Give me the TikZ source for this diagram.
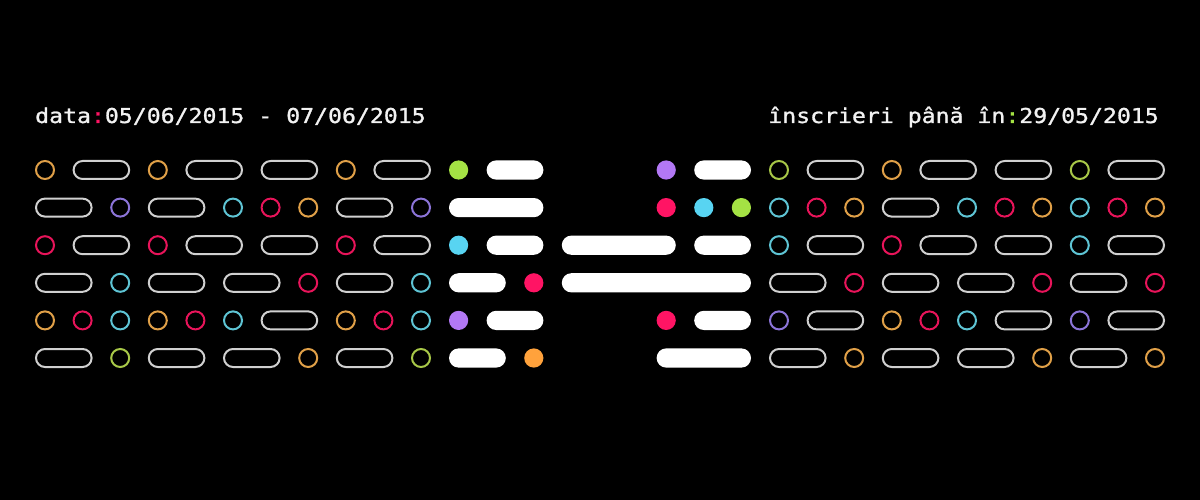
\documentclass[tikz,border=0pt]{standalone}
\usepackage{fontspec}
\newfontfamily\dgmono{DejaVu Sans Mono}[FakeStretch=1.13,FakeBold=1.2]
\definecolor{oO}{HTML}{E0A048}
\definecolor{oR}{HTML}{E8145A}
\definecolor{oC}{HTML}{5EC4D4}
\definecolor{oP}{HTML}{8C74D8}
\definecolor{oG}{HTML}{A8C848}
\definecolor{fG}{HTML}{A4E244}
\definecolor{fC}{HTML}{58D4F2}
\definecolor{fR}{HTML}{FF1464}
\definecolor{fP}{HTML}{B278F4}
\definecolor{fO}{HTML}{FFA23C}
\definecolor{pillgray}{HTML}{D0D0D0}
\definecolor{txt}{HTML}{F2F2F2}
\tikzset{
  ring/.style={line width=2pt},
  pillo/.style={draw=pillgray, line width=2pt, rounded corners=9pt},
  pillf/.style={fill=white, rounded corners=9.6pt},
  label/.style={text=txt, inner sep=0pt, font=\dgmono\fontsize{20.5}{24}\selectfont}
}
% left / right grid helpers: column, row, colour
\newcommand\dgLo[3]{\draw[ring,draw=#3] ({45+37.6*#1},{170+37.6*#2}) circle (9);}
\newcommand\dgRo[3]{\draw[ring,draw=#3] ({666.2+37.6*#1},{170+37.6*#2}) circle (9);}
\newcommand\dgLf[3]{\fill[#3] ({45+37.6*#1},{170+37.6*#2}) circle (9.6);}
\newcommand\dgRf[3]{\fill[#3] ({666.2+37.6*#1},{170+37.6*#2}) circle (9.6);}
% outline pills: from col, to col, row
\newcommand\dgLp[3]{\draw[pillo] ({45+37.6*#1-9},{170+37.6*#3-9}) rectangle ({45+37.6*#2+9},{170+37.6*#3+9});}
\newcommand\dgRp[3]{\draw[pillo] ({666.2+37.6*#1-9},{170+37.6*#3-9}) rectangle ({666.2+37.6*#2+9},{170+37.6*#3+9});}
% filled pills: from x, to x (centres), row
\newcommand\dgWp[3]{\fill[pillf] ({#1-9.6},{170+37.6*#3-9.6}) rectangle ({#2+9.6},{170+37.6*#3+9.6});}
\begin{document}
\begin{tikzpicture}[x=1pt,y=-1pt]
\fill[black] (0,0) rectangle (1200,500);
\useasboundingbox (0,0) rectangle (1200,500);
% texts
\node[label, anchor=base west] (datetext) at (35,123) {data\textcolor{fR}{:}05/06/2015 - 07/06/2015};
\node[label, anchor=base east] (regtext) at (1159,123) {înscrieri până în\textcolor{fG}{:}29/05/2015};
% ---- left grid ----
% row 0
\dgLo{0}{0}{oO} \dgLp{1}{2}{0} \dgLo{3}{0}{oO} \dgLp{4}{5}{0} \dgLp{6}{7}{0} \dgLo{8}{0}{oO} \dgLp{9}{10}{0}
% row 1
\dgLp{0}{1}{1} \dgLo{2}{1}{oP} \dgLp{3}{4}{1} \dgLo{5}{1}{oC} \dgLo{6}{1}{oR} \dgLo{7}{1}{oO} \dgLp{8}{9}{1} \dgLo{10}{1}{oP}
% row 2
\dgLo{0}{2}{oR} \dgLp{1}{2}{2} \dgLo{3}{2}{oR} \dgLp{4}{5}{2} \dgLp{6}{7}{2} \dgLo{8}{2}{oR} \dgLp{9}{10}{2}
% row 3
\dgLp{0}{1}{3} \dgLo{2}{3}{oC} \dgLp{3}{4}{3} \dgLp{5}{6}{3} \dgLo{7}{3}{oR} \dgLp{8}{9}{3} \dgLo{10}{3}{oC}
% row 4
\dgLo{0}{4}{oO} \dgLo{1}{4}{oR} \dgLo{2}{4}{oC} \dgLo{3}{4}{oO} \dgLo{4}{4}{oR} \dgLo{5}{4}{oC} \dgLp{6}{7}{4} \dgLo{8}{4}{oO} \dgLo{9}{4}{oR} \dgLo{10}{4}{oC}
% row 5
\dgLp{0}{1}{5} \dgLo{2}{5}{oG} \dgLp{3}{4}{5} \dgLp{5}{6}{5} \dgLo{7}{5}{oO} \dgLp{8}{9}{5} \dgLo{10}{5}{oG}
% ---- right grid ----
% row 0
\dgRo{3}{0}{oG} \dgRp{4}{5}{0} \dgRo{6}{0}{oO} \dgRp{7}{8}{0} \dgRp{9}{10}{0} \dgRo{11}{0}{oG} \dgRp{12}{13}{0}
% row 1
\dgRo{3}{1}{oC} \dgRo{4}{1}{oR} \dgRo{5}{1}{oO} \dgRp{6}{7}{1} \dgRo{8}{1}{oC} \dgRo{9}{1}{oR} \dgRo{10}{1}{oO} \dgRo{11}{1}{oC} \dgRo{12}{1}{oR} \dgRo{13}{1}{oO}
% row 2
\dgRo{3}{2}{oC} \dgRp{4}{5}{2} \dgRo{6}{2}{oR} \dgRp{7}{8}{2} \dgRp{9}{10}{2} \dgRo{11}{2}{oC} \dgRp{12}{13}{2}
% row 3
\dgRp{3}{4}{3} \dgRo{5}{3}{oR} \dgRp{6}{7}{3} \dgRp{8}{9}{3} \dgRo{10}{3}{oR} \dgRp{11}{12}{3} \dgRo{13}{3}{oR}
% row 4
\dgRo{3}{4}{oP} \dgRp{4}{5}{4} \dgRo{6}{4}{oO} \dgRo{7}{4}{oR} \dgRo{8}{4}{oC} \dgRp{9}{10}{4} \dgRo{11}{4}{oP} \dgRp{12}{13}{4}
% row 5
\dgRp{3}{4}{5} \dgRo{5}{5}{oO} \dgRp{6}{7}{5} \dgRp{8}{9}{5} \dgRo{10}{5}{oO} \dgRp{11}{12}{5} \dgRo{13}{5}{oO}
% ---- centre: filled shapes ----
% row 0
\dgLf{11}{0}{fG} \dgWp{496.2}{533.8}{0} \dgRf{0}{0}{fP} \dgWp{703.8}{741.4}{0}
% row 1
\dgWp{458.6}{533.8}{1} \dgRf{0}{1}{fR} \dgRf{1}{1}{fC} \dgRf{2}{1}{fG}
% row 2
\dgLf{11}{2}{fC} \dgWp{496.2}{533.8}{2} \dgWp{571.4}{666.2}{2} \dgWp{703.8}{741.4}{2}
% row 3
\dgWp{458.6}{496.2}{3} \dgLf{13}{3}{fR} \dgWp{571.4}{741.4}{3}
% row 4
\dgLf{11}{4}{fP} \dgWp{496.2}{533.8}{4} \dgRf{0}{4}{fR} \dgWp{703.8}{741.4}{4}
% row 5
\dgWp{458.6}{496.2}{5} \dgLf{13}{5}{fO} \dgWp{666.2}{741.4}{5}
\end{tikzpicture}
\end{document}
